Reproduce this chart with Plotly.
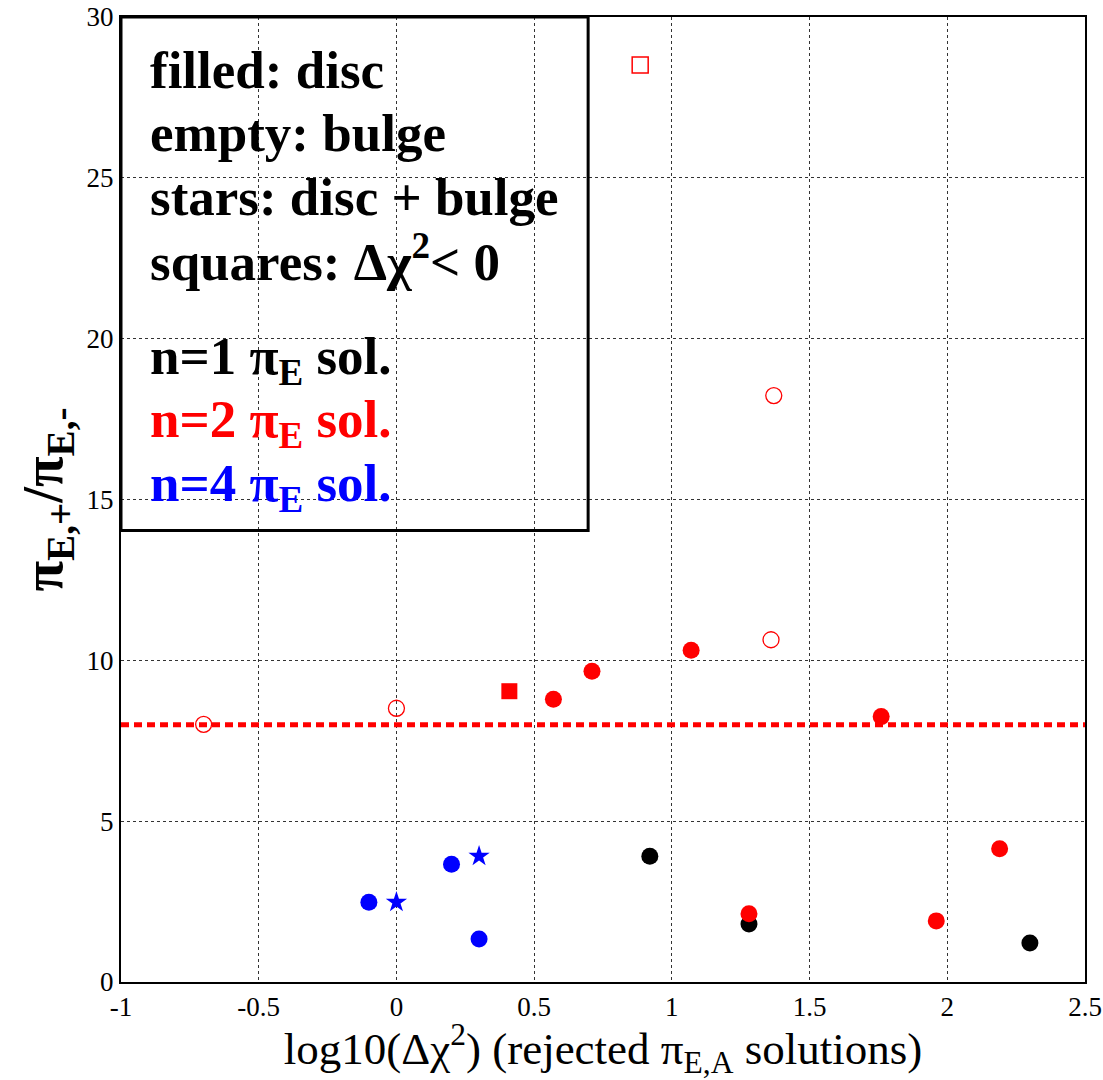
import plotly.graph_objects as go

# ---- data ----
black_disc_x = [0.92, 1.28, 2.30]
black_disc_y = [3.91, 1.80, 1.21]

red_disc_x = [0.57, 0.71, 1.07, 1.76, 1.28, 1.96, 2.19]
red_disc_y = [8.79, 9.66, 10.31, 8.25, 2.12, 1.90, 4.14]

red_bulge_x = [-0.70, 0.00, 1.37, 1.36]
red_bulge_y = [8.01, 8.51, 18.23, 10.64]

red_disc_neg_x = [0.41]
red_disc_neg_y = [9.04]

red_bulge_neg_x = [0.885]
red_bulge_neg_y = [28.51]

blue_disc_x = [-0.10, 0.20, 0.30]
blue_disc_y = [2.48, 3.66, 1.34]

blue_both_x = [0.00, 0.30]
blue_both_y = [2.48, 3.91]

threshold_y = 8

x_ticks = [-1, -0.5, 0, 0.5, 1, 1.5, 2, 2.5]
x_tick_labels = ["-1", "-0.5", "0", "0.5", "1", "1.5", "2", "2.5"]
y_ticks = [0, 5, 10, 15, 20, 25, 30]

legend_lines = [
    ("<b>filled: disc</b>", "black"),
    ("<b>empty: bulge</b>", "black"),
    ("<b>stars: disc + bulge</b>", "black"),
    ("<b>squares: Δχ<sup>2</sup>< 0</b>", "black"),
    ("<b>n=1 π<sub>E</sub> sol.</b>", "black"),
    ("<b>n=2 π<sub>E</sub> sol.</b>", "red"),
    ("<b>n=4 π<sub>E</sub> sol.</b>", "blue"),
]
legend_y_px = [70, 133, 197, 258, 360, 423, 487]

FONT = "Liberation Serif"
RED = "#ff0000"
BLUE = "#0000ff"

fig = go.Figure()

fig.add_trace(go.Scatter(x=black_disc_x, y=black_disc_y, mode="markers",
                         marker=dict(symbol="circle", size=17, color="black")))
fig.add_trace(go.Scatter(x=red_disc_x, y=red_disc_y, mode="markers",
                         marker=dict(symbol="circle", size=17, color=RED)))
fig.add_trace(go.Scatter(x=red_bulge_x, y=red_bulge_y, mode="markers",
                         marker=dict(symbol="circle-open", size=16, color=RED,
                                     line=dict(width=1.3, color=RED))))
fig.add_trace(go.Scatter(x=red_disc_neg_x, y=red_disc_neg_y, mode="markers",
                         marker=dict(symbol="square", size=16, color=RED)))
fig.add_trace(go.Scatter(x=red_bulge_neg_x, y=red_bulge_neg_y, mode="markers",
                         marker=dict(symbol="square-open", size=16, color=RED,
                                     line=dict(width=1.5, color=RED))))
fig.add_trace(go.Scatter(x=blue_disc_x, y=blue_disc_y, mode="markers",
                         marker=dict(symbol="circle", size=17, color=BLUE)))
fig.add_trace(go.Scatter(x=blue_both_x, y=blue_both_y, mode="markers",
                         marker=dict(symbol="star", size=16, color=BLUE)))

# threshold dashed line
fig.add_shape(type="line", xref="paper", yref="y", x0=0, x1=1,
              y0=threshold_y, y1=threshold_y,
              line=dict(color=RED, width=5, dash="8px,5px"), layer="above")

# legend box
fig.add_shape(type="rect", xref="x", yref="y", x0=-1, x1=0.696, y0=14.04, y1=30,
              line=dict(color="black", width=3), fillcolor="rgba(0,0,0,0)", layer="above")

H_PLOT = 982 - 17
for (txt, col), py in zip(legend_lines, legend_y_px):
    fig.add_annotation(text=txt, xref="paper", yref="paper",
                       x=(148 - 121) / 964, y=(982 - py) / H_PLOT,
                       xanchor="left", yanchor="middle", showarrow=False,
                       font=dict(family=FONT, size=53, color=col))

fig.update_layout(
    width=1103, height=1080,
    margin=dict(l=121, r=18, t=17, b=98),
    paper_bgcolor="white", plot_bgcolor="white",
    showlegend=False,
    font=dict(family=FONT, color="black"),
)
fig.update_xaxes(range=[-1, 2.5], tickvals=x_ticks, ticktext=x_tick_labels,
                 automargin=False,
                 showline=True, mirror=True, linecolor="black", linewidth=2,
                 showgrid=True, gridcolor="#333333", gridwidth=1, griddash="dot",
                 zeroline=False, ticks="", tickfont=dict(family=FONT, size=27),
                 title=dict(text="log10(Δχ<sup>2</sup>) (rejected π<sub>E,A</sub> solutions)",
                            font=dict(family=FONT, size=45), standoff=4))
fig.update_yaxes(range=[0, 30], tickvals=y_ticks,
                 automargin=False,
                 showline=True, mirror=True, linecolor="black", linewidth=2,
                 showgrid=True, gridcolor="#333333", gridwidth=1, griddash="dot",
                 zeroline=False, ticks="", tickfont=dict(family=FONT, size=27),
                 title=dict(text="<b>π<sub>E,+</sub>/π<sub>E,-</sub></b>",
                            font=dict(family=FONT, size=56), standoff=6))

fig.write_html("out.html")
